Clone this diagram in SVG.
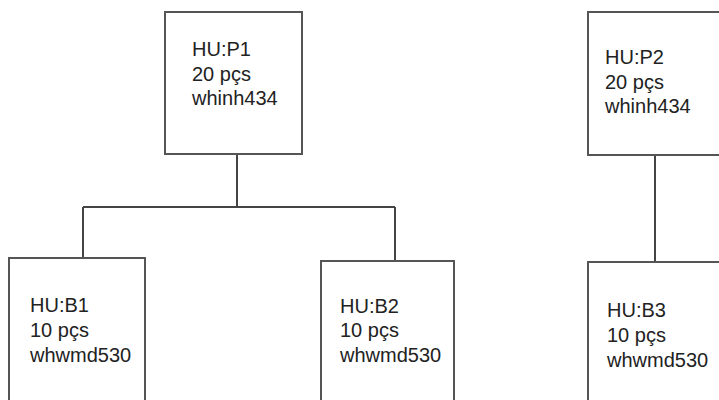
<svg xmlns="http://www.w3.org/2000/svg" width="719" height="400" viewBox="0 0 719 400">
<style>
.box{fill:#fff;stroke:#555;stroke-width:2}
.conn{fill:none;stroke:#444;stroke-width:2}
text{font-family:"Liberation Sans",Arial,sans-serif;font-size:20px;fill:#222}
</style>
<rect x="0" y="0" width="719" height="400" fill="#fff"/>
<g id="connectors">
<path class="conn" d="M237 154 V207 M83 207 H395 M83 207 V258 M395 207 V261"/>
<path class="conn" d="M655 155 V262"/>
</g>
<g id="P1">
<rect class="box" x="165" y="12" width="137" height="142"/>
<text x="192" y="56">HU:P1</text>
<text x="192" y="81">20 pçs</text>
<text x="192" y="105">whinh434</text>
</g>
<g id="P2">
<rect class="box" x="588" y="12" width="137" height="143"/>
<text x="605" y="64">HU:P2</text>
<text x="605" y="89">20 pçs</text>
<text x="605" y="113">whinh434</text>
</g>
<g id="B1">
<rect class="box" x="9" y="258" width="136" height="160"/>
<text x="30" y="312">HU:B1</text>
<text x="30" y="337">10 pçs</text>
<text x="30" y="362">whwmd530</text>
</g>
<g id="B2">
<rect class="box" x="321" y="261" width="133" height="160"/>
<text x="340" y="313">HU:B2</text>
<text x="340" y="337">10 pçs</text>
<text x="340" y="362">whwmd530</text>
</g>
<g id="B3">
<rect class="box" x="588" y="262" width="137" height="160"/>
<text x="607" y="317">HU:B3</text>
<text x="607" y="342">10 pçs</text>
<text x="607" y="367">whwmd530</text>
</g>
</svg>
